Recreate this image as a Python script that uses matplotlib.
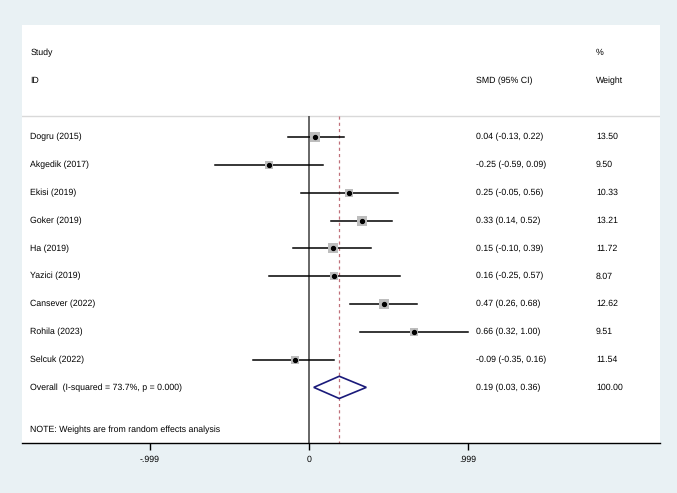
import matplotlib
matplotlib.use('Agg')
import matplotlib.pyplot as plt
import numpy as np

plt.rcParams['font.family'] = ['Liberation Sans', 'DejaVu Sans']
plt.rcParams['text.hinting'] = 'no_hinting'

studies = ["Dogru (2015)", "Akgedik (2017)", "Ekisi (2019)", "Goker (2019)",
           "Ha (2019)", "Yazici (2019)", "Cansever (2022)", "Rohila (2023)",
           "Selcuk (2022)"]
smd = [0.04, -0.25, 0.25, 0.33, 0.15, 0.16, 0.47, 0.66, -0.09]
lower = [-0.13, -0.59, -0.05, 0.14, -0.10, -0.25, 0.26, 0.32, -0.35]
upper = [0.22, 0.09, 0.56, 0.52, 0.39, 0.57, 0.68, 1.00, 0.16]
weights = [13.50, 9.50, 10.33, 13.21, 11.72, 8.07, 12.62, 9.51, 11.54]

overall_label = "Overall  (I-squared = 73.7%, p = 0.000)"
overall = (0.19, 0.03, 0.36)
overall_weight = 100.00
tick_values = [-0.999, 0, 0.999]
tick_labels = ["-.999", "0", ".999"]

bg = '#e9f1f4'
fig = plt.figure(figsize=(6.77, 4.93), dpi=100, facecolor=bg)
ax = fig.add_axes([22 / 677, 50 / 493, 638 / 677, 418 / 493])
ax.set_facecolor('white')

ax.set_xlim(-1.803, 2.205)
ax.set_ylim(11.0, -4.03)

fs = 6.3
col_label = -1.752
col_smd = 1.049
col_w = 1.803

# header
ax.text(col_label, -3.02, "Study", fontsize=fs, va='center')
ax.text(col_label, -2.01, "ID", fontsize=fs, va='center')
ax.text(col_smd, -2.01, "SMD (95% CI)", fontsize=fs, va='center')
ax.text(col_w, -3.02, "%", fontsize=fs, va='center')
ax.text(col_w, -2.01, "Weight", fontsize=fs, va='center')
ax.axhline(-0.755, color='#d9d9d9', lw=1.0)

# reference lines
ax.vlines(0, -0.755, 11.0, color='#4d4d4d', lw=1.2, zorder=2)
ax.vlines(overall[0], -0.755, 11.0, color='#c0707a', lw=0.9,
          linestyles=(0, (2.5, 2.5)), zorder=2)

rows = np.arange(len(studies))
for i, name in enumerate(studies):
    y = rows[i]
    ax.plot([lower[i], upper[i]], [y, y], color='black', lw=1.1, zorder=3)
    ax.plot(smd[i], y, marker='s', markersize=np.sqrt(weights[i]) * 1.9,
            color='#bdbdbd', markeredgewidth=0, zorder=3)
    ax.plot(smd[i], y, marker='o', markersize=2.8, color='black', zorder=4)
    ax.text(col_label, y, name, fontsize=fs, va='center')
    ax.text(col_smd, y, "%.2f (%.2f, %.2f)" % (smd[i], lower[i], upper[i]),
            fontsize=fs, va='center')
    ax.text(col_w, y, "%.2f" % weights[i], fontsize=fs, va='center')

# overall diamond
yo = len(studies)
est, lo, hi = overall
ax.fill([lo, est, hi, est, lo], [yo, yo - 0.4, yo, yo + 0.4, yo],
        facecolor='none', edgecolor='#1a1a7a', lw=1.2, zorder=4)
ax.text(col_label, yo, overall_label, fontsize=fs, va='center')
ax.text(col_smd, yo, "%.2f (%.2f, %.2f)" % overall, fontsize=fs, va='center')
ax.text(col_w, yo, "%.2f" % overall_weight, fontsize=fs, va='center')

ax.text(col_label, 10.54, "NOTE: Weights are from random effects analysis",
        fontsize=fs, va='center')

for side in ['top', 'left', 'right']:
    ax.spines[side].set_visible(False)
ax.spines['bottom'].set_color('black')
ax.spines['bottom'].set_linewidth(1.0)
ax.set_yticks([])
ax.set_xticks(tick_values)
ax.set_xticklabels(tick_labels, fontsize=fs)
ax.tick_params(axis='x', direction='out', length=5, width=1, pad=4)

plt.savefig('out.png', dpi=100, facecolor=bg)
